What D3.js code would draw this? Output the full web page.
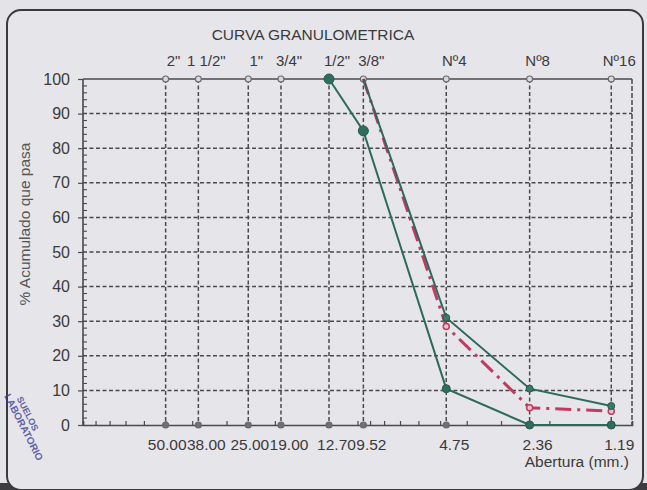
<!DOCTYPE html>
<html>
<head>
<meta charset="utf-8">
<script src="https://cdn.jsdelivr.net/npm/d3@7"></script>
<style>
  html, body { margin: 0; padding: 0; background: #d9d8dd; }
  svg { display: block; }
  text { font-family: "Liberation Sans", Arial, sans-serif; fill: #3a3a3a; }
</style>
</head>
<body>
<svg id="chart" width="647" height="490"></svg>
<script>
// Sieve designations and openings (mm)
const sieveNames = ['2"', '1 1/2"', '1"', '3/4"', '1/2"', '3/8"', 'Nº4', 'Nº8', 'Nº16'];
const openings = [50, 38, 25, 19, 12.7, 9.52, 4.75, 2.36, 1.19];
const openingLabels = ['50.00', '38.00', '25.00', '19.00', '12.70', '9.52', '4.75', '2.36', '1.19'];
const yTicks = [0, 10, 20, 30, 40, 50, 60, 70, 80, 90, 100];

// % passing: lower limit, upper limit, sample
const lowerLimit = [null, null, null, null, 100, 85, 10.5, 0, 0];
const upperLimit = [null, null, null, null, null, 100, 31, 10.5, 5.5];
const sample = [null, null, null, null, null, 100, 28.5, 5, 4];

const svg = d3.select('#chart');
const W = 647, H = 490;

// sheet background + frame
svg.append('rect').attr('x', 0).attr('y', 0).attr('width', W).attr('height', H).attr('fill', '#d6d5db');
svg.append('rect').attr('x', 0).attr('y', 0).attr('width', W).attr('height', 484).attr('fill', '#e4e3e8');
svg.append('rect').attr('x', 0).attr('y', 483).attr('width', W).attr('height', 7).attr('fill', '#3c3c42');
svg.append('rect').attr('x', 7).attr('y', 10).attr('width', 636).attr('height', 480)
  .attr('rx', 14).attr('fill', '#e6e5ea').attr('stroke', '#3a3a3e').attr('stroke-width', 2);

const x = d3.scaleLog().domain([100, 1]).range([83, 632]);
const y = d3.scaleLinear().domain([0, 100]).range([425, 79]);

const gridColor = '#4a4a4e';

// horizontal dashed grid
svg.append('g').selectAll('line').data(yTicks.filter(v => v > 0 && v < 100)).join('line')
  .attr('x1', x(100)).attr('x2', x(1)).attr('y1', d => y(d)).attr('y2', d => y(d))
  .attr('stroke', gridColor).attr('stroke-width', 1.5).attr('stroke-dasharray', '4,2.5');

// vertical dashed grid at each sieve
svg.append('g').selectAll('line').data(openings).join('line')
  .attr('x1', d => x(d)).attr('x2', d => x(d)).attr('y1', y(100)).attr('y2', y(0))
  .attr('stroke', gridColor).attr('stroke-width', 1.5).attr('stroke-dasharray', '4,2.5');

// right border (dashed)
svg.append('line').attr('x1', x(1)).attr('x2', x(1)).attr('y1', y(100)).attr('y2', y(0))
  .attr('stroke', gridColor).attr('stroke-width', 1.5).attr('stroke-dasharray', '5,2');

// bottom axis with log minor ticks pointing inward
const xAxis = d3.axisBottom(x).tickValues(x.ticks()).tickSize(-4).tickFormat('');
const gx = svg.append('g').attr('transform', `translate(0,${y(0)})`).call(xAxis);
gx.select('.domain').attr('stroke', '#4a4a4e').attr('stroke-width', 1.6);
gx.selectAll('.tick line').attr('stroke', '#4a4a4e').attr('stroke-width', 1.2);

// top border
svg.append('line').attr('x1', x(100)).attr('x2', x(1)).attr('y1', y(100)).attr('y2', y(100))
  .attr('stroke', '#4a4a4e').attr('stroke-width', 1.6);

// left axis: major ticks outward, minor ticks inward
const yAxis = d3.axisLeft(y).tickValues(yTicks).tickSize(5).tickPadding(8);
const gy = svg.append('g').attr('transform', `translate(${x(100)},0)`).call(yAxis);
gy.select('.domain').attr('stroke', '#4a4a4e').attr('stroke-width', 1.6).attr('d', `M0,${y(100)}V${y(0)}`);
gy.selectAll('.tick line').attr('stroke', '#4a4a4e').attr('stroke-width', 1.2);
gy.selectAll('.tick text').style('font-size', '16px').attr('fill', '#3a3a3a')
  .style('font-family', '"Liberation Sans", Arial, sans-serif');
const yMinor = d3.range(0, 101, 2).filter(v => v % 10 !== 0);
svg.append('g').selectAll('line').data(yMinor).join('line')
  .attr('x1', x(100)).attr('x2', x(100) + 4).attr('y1', d => y(d)).attr('y2', d => y(d))
  .attr('stroke', '#4a4a4e').attr('stroke-width', 1.1);

// small circles on top and bottom borders at each sieve
['top', 'bottom'].forEach(side => {
  svg.append('g').selectAll('circle').data(openings).join('circle')
    .attr('cx', d => x(d)).attr('cy', side === 'top' ? y(100) : y(0)).attr('r', 3)
    .attr('fill', side === 'top' ? '#d8d7dc' : '#6f7072')
    .attr('stroke', '#6a6a6e').attr('stroke-width', 1.2);
});

// opening labels (bottom): placed slightly right of each sieve, then
// crowded neighbours are nudged left so they don't run into each other
const botLabels = svg.append('g').selectAll('text').data(openings).join('text')
  .attr('x', d => x(d) + 8).attr('y', 450).attr('text-anchor', 'middle')
  .style('font-size', '15.5px')
  .text((d, i) => openingLabels[i]);
{
  const nodes = botLabels.nodes();
  for (let i = nodes.length - 2; i >= 0; i--) {
    const a = nodes[i].getBBox(), b = nodes[i + 1].getBBox();
    const overlap = a.x + a.width - b.x;
    if (overlap > 0) {
      nodes[i].setAttribute('x', +nodes[i].getAttribute('x') - overlap);
    }
  }
}

// sieve labels (top)
svg.append('g').selectAll('text').data(openings).join('text')
  .attr('x', d => x(d) + 8).attr('y', 66).attr('text-anchor', 'middle')
  .style('font-size', '15px')
  .text((d, i) => sieveNames[i]);

// titles
svg.append('text').attr('x', 313).attr('y', 40).attr('text-anchor', 'middle')
  .style('font-size', '15.5px').text('CURVA GRANULOMETRICA');
svg.append('text').attr('transform', 'translate(30,224) rotate(-90)').attr('text-anchor', 'middle')
  .style('font-size', '15.5px').style('fill', '#555').text('% Acumulado que pasa');
svg.append('text').attr('x', 629).attr('y', 467).attr('text-anchor', 'end')
  .style('font-size', '15.5px').text('Abertura (mm.)');

// series
const pts = vals => openings.map((o, i) => ({ o, v: vals[i] })).filter(p => p.v !== null);
const line = d3.line().x(p => x(p.o)).y(p => y(p.v));
const green = '#2c6a5b';
const red = '#c23a5e';

svg.append('path').datum(pts(sample)).attr('d', line).attr('fill', 'none')
  .attr('stroke', red).attr('stroke-width', 3).attr('stroke-dasharray', '16,6,3,6');
svg.append('path').datum(pts(lowerLimit)).attr('d', line).attr('fill', 'none')
  .attr('stroke', green).attr('stroke-width', 2);
svg.append('path').datum(pts(upperLimit)).attr('d', line).attr('fill', 'none')
  .attr('stroke', green).attr('stroke-width', 2);

svg.append('g').selectAll('circle').data(pts(sample).slice(1)).join('circle')
  .attr('cx', p => x(p.o)).attr('cy', p => y(p.v)).attr('r', 3)
  .attr('fill', '#e3c5cf').attr('stroke', red).attr('stroke-width', 1.5);
svg.append('g').selectAll('circle').data(pts(lowerLimit)).join('circle')
  .attr('cx', p => x(p.o)).attr('cy', p => y(p.v)).attr('r', (p, i) => i < 2 ? 5 : 4)
  .attr('fill', '#2f6e5e').attr('stroke', '#25584b').attr('stroke-width', 1);
svg.append('g').selectAll('circle').data(pts(upperLimit).slice(1)).join('circle')
  .attr('cx', p => x(p.o)).attr('cy', p => y(p.v)).attr('r', 3.5)
  .attr('fill', '#3a7a69').attr('stroke', '#25584b').attr('stroke-width', 1);

// lab stamp in the lower-left corner
const stamp = svg.append('g').attr('transform', 'translate(4,396) rotate(63)')
  .attr('opacity', 0.8);
stamp.append('text').attr('x', 0).attr('y', 0).style('font-size', '10px')
  .style('font-weight', 'bold').style('fill', '#3d4196').text('LABORATORIO');
stamp.append('text').attr('x', 8).attr('y', -10).style('font-size', '9px')
  .style('font-weight', 'bold').style('fill', '#3d4196').text('SUELOS');
</script>
</body>
</html>
